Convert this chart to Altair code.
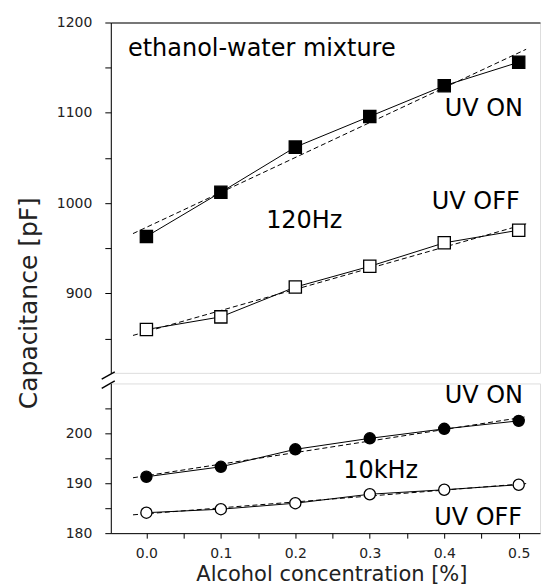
import altair as alt
import pandas as pd

# ---- data ----
conc = [0.0, 0.1, 0.2, 0.3, 0.4, 0.5]
hz120_on = [963, 1012, 1062, 1096, 1130, 1156]
hz120_off = [860, 874, 907, 930, 956, 970]
khz10_on = [191.3, 193.3, 196.8, 199.0, 200.9, 202.5]
khz10_off = [184.1, 184.8, 186.0, 187.8, 188.7, 189.7]

series_names = ["UV ON", "UV OFF"]

FONT = "DejaVu Sans"
XDOM = [-0.0478, 0.5286]
W = 430
H_TOP = 351
H_LOW = 150
FIT_EXTENT = [-0.018, 0.51]

top_df = pd.DataFrame({"x": conc * 2, "y": hz120_on + hz120_off,
                       "s": [series_names[0]] * 6 + [series_names[1]] * 6})
low_df = pd.DataFrame({"x": conc * 2, "y": khz10_on + khz10_off,
                       "s": [series_names[0]] * 6 + [series_names[1]] * 6})

xscale = alt.Scale(domain=XDOM, nice=False, zero=False)

x_top = alt.X("x:Q", scale=xscale,
              axis=alt.Axis(orient="top", labels=False, ticks=False, title=None,
                            grid=False, domainColor="black", domainWidth=1))
y_top = alt.Y("y:Q", scale=alt.Scale(domain=[812, 1200], nice=False, zero=False),
              axis=alt.Axis(values=[850, 900, 950, 1000, 1050, 1100, 1150, 1200],
                            format="d",
                            labelExpr="datum.value % 100 == 0 ? datum.label : ''",
                            tickSize=6, tickColor="black", domainColor="black",
                            labelPadding=13, labelFont=FONT, labelFontSize=14,
                            labelColor="#222", grid=False,
                            title="Capacitance [pF]", titleFont=FONT, titleFontSize=25,
                            titleFontWeight="normal", titleColor="#222",
                            titleAngle=270, titleX=-74, titleY=280.7,
                            titleBaseline="alphabetic", titleAlign="center"))

x_low = alt.X("x:Q", scale=xscale,
              axis=alt.Axis(values=[0, 0.05, 0.1, 0.15, 0.2, 0.25, 0.3, 0.35, 0.4, 0.45, 0.5],
                            labelExpr="abs(round(datum.value*100) % 10) == 0 ? format(datum.value, '.1f') : ''",
                            tickSize=5, tickColor="black", domainColor="black",
                            labelPadding=8, labelFont=FONT, labelFontSize=14,
                            labelColor="#222", grid=False,
                            title="Alcohol concentration [%]", titleFont=FONT,
                            titleFontSize=21, titleFontWeight="normal", titleColor="#222",
                            titleX=221, titleY=47, titleBaseline="alphabetic"))
y_low = alt.Y("y:Q", scale=alt.Scale(domain=[180, 210], nice=False, zero=False),
              axis=alt.Axis(values=[180, 185, 190, 195, 200, 205],
                            format="d",
                            labelExpr="datum.value % 10 == 0 ? datum.label : ''",
                            tickSize=6, tickColor="black", domainColor="black",
                            labelPadding=13, labelFont=FONT, labelFontSize=14,
                            labelColor="#222", grid=False, title=None))

fill_scale = alt.Scale(domain=series_names, range=["black", "white"])


def panel(df, xe, ye, shape, size, texts):
    base = alt.Chart(df)
    fit = base.transform_regression("x", "y", groupby=["s"], extent=FIT_EXTENT).mark_line(
        color="black", strokeWidth=1, strokeDash=[5, 3]).encode(x=xe, y=ye, detail="s:N")
    line = base.mark_line(color="black", strokeWidth=1).encode(x=xe, y=ye, detail="s:N")
    pts = base.mark_point(shape=shape, size=size, stroke="black", strokeWidth=1.3,
                          opacity=1, fillOpacity=1).encode(
        x=xe, y=ye, fill=alt.Fill("s:N", scale=fill_scale, legend=None))
    layers = [fit, line, pts]
    for t, tx, ty, al in texts:
        tdf = pd.DataFrame({"x": [tx], "y": [ty], "t": [t]})
        layers.append(alt.Chart(tdf).mark_text(align=al, baseline="alphabetic", font=FONT,
                                               fontSize=24, color="black").encode(
            x=xe, y=ye, text="t:N"))
    return layers


top_texts = [
    ("ethanol-water mixture", -0.0247, 1162.7, "left"),
    ("UV ON", 0.5058, 1096.3, "right"),
    ("UV OFF", 0.5013, 993, "right"),
    ("120Hz", 0.212, 972.7, "center"),
]
low_texts = [
    ("UV ON", 0.5058, 206.0, "right"),
    ("10kHz", 0.3147, 191.1, "center"),
    ("UV OFF", 0.5046, 181.7, "right"),
]

top_layers = panel(top_df, x_top, y_top, "square", 150, top_texts)
low_layers = panel(low_df, x_low, y_low, "circle", 125, low_texts)

# axis-break marks (drawn in the lower panel's data space)
brk = pd.DataFrame({"x": [-0.060, -0.060], "x2": [-0.0425, -0.0425],
                    "y": [210.86, 209.0], "y2": [212.32, 210.52]})
breaks = alt.Chart(brk).mark_rule(color="black", strokeWidth=1.4).encode(
    x=x_low, x2="x2:Q", y=y_low, y2="y2:Q")
low_layers.append(breaks)

top = alt.layer(*top_layers).properties(width=W, height=H_TOP)
low = alt.layer(*low_layers).properties(width=W, height=H_LOW)

chart = alt.vconcat(top, low, spacing=10.6, bounds="flush").properties(
    padding={"left": 8, "top": 6, "right": 0, "bottom": 0}
).configure_view(stroke=None).configure(background="white")

chart.save("out.html", embed_options={"renderer": "svg", "actions": False})
